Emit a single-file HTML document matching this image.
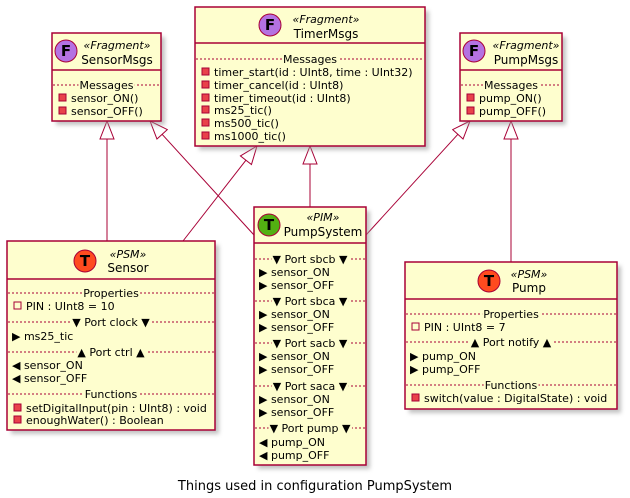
<!DOCTYPE html>
<html><head><meta charset="utf-8"><style>
html,body{margin:0;padding:0;background:#fff;width:630px;height:498px;overflow:hidden}
svg text{font-family:"DejaVu Sans","Liberation Sans",sans-serif;font-size:11px;fill:#000}
</style></head><body>
<svg id="s" width="630" height="498" xmlns="http://www.w3.org/2000/svg">
<defs><filter id="sh" x="-10%" y="-10%" width="130%" height="130%"><feGaussianBlur stdDeviation="2"/></filter></defs>
</svg>
<script>
const S=document.getElementById('s');const NS='http://www.w3.org/2000/svg';
function el(t,a,txt){const e=document.createElementNS(NS,t);for(const k in a)e.setAttribute(k,a[k]);if(txt!=null)e.textContent=txt;S.appendChild(e);return e;}
const R='#A80036';
function edge(x1,y1,x2,y2){
 const dx=x1-x2,dy=y1-y2,L=Math.hypot(dx,dy),ux=dx/L,uy=dy/L,len=18,w=7;
 const bx=x2+ux*len,by=y2+uy*len;
 el('line',{x1,y1,x2:bx,y2:by,stroke:R,'stroke-width':1});
 el('polygon',{points:`${x2},${y2} ${bx-uy*w},${by+ux*w} ${bx+uy*w},${by-ux*w}`,fill:'#fff',stroke:R,'stroke-width':1});
}
function box(b){
 const {x,y,w,h,hh}=b;
 el('rect',{x:x+4,y:y+4,width:w,height:h,fill:'#999',filter:'url(#sh)',opacity:.6});
 el('rect',{x,y,width:w,height:h,fill:'#FEFECE',stroke:R,'stroke-width':1.5});
 el('line',{x1:x,y1:y+hh,x2:x+w,y2:y+hh,stroke:R,'stroke-width':1.5});
 el('circle',{cx:b.cx,cy:b.cy,r:11,fill:b.col,stroke:R,'stroke-width':1});
 el('text',{x:b.cx,y:b.cy+5,'text-anchor':'middle','font-weight':'bold',style:'font-size:15px'},b.ic);
 el('text',{x:b.tx,y:b.sy,'text-anchor':'middle','font-style':'italic'},'«'+b.st+'»');
 el('text',{x:b.tx,y:b.ny,'text-anchor':'middle',style:'font-size:12px'},b.name);
 for(const r of b.rows){
  const [k,yy,t]=r;
  if(k=='s'){
   el('line',{x1:x+1,y1:yy,x2:x+w-1,y2:yy,stroke:R,'stroke-width':1,'stroke-dasharray':'2,2'});
   const tt=el('text',{x:x+w/2,y:yy+4,'text-anchor':'middle'},t);
   const bb=tt.getBBox();
   const bg=el('rect',{x:bb.x-1,y:bb.y,width:bb.width+2,height:bb.height,fill:'#FEFECE'});
   S.insertBefore(bg,tt);
  }else if(k=='m'||k=='p'){
   el('rect',{x:x+7,y:yy-4,width:7,height:7,fill:k=='m'?'#E8424A':'none',stroke:R,'stroke-width':1});
   el('text',{x:x+19,y:yy+4},t);
  }else{
   el('text',{x:x+5,y:yy+4},t);
  }
 }
}
edge(107,241,107,121);
edge(254,235,150,121);
edge(183,241,257,146);
edge(310,207,310,146);
edge(366,235,470,121);
edge(511,262,511,121);
box({x:52,y:33,w:109,h:88,hh:37,cx:66,cy:51,col:'#B472E2',ic:'F',tx:117,st:'Fragment',sy:49,ny:64,name:'SensorMsgs',
 rows:[['s',85,'Messages'],['m',98,'sensor_ON()'],['m',111,'sensor_OFF()']]});
box({x:195,y:7,w:230,h:139,hh:36,cx:270,cy:25,col:'#B472E2',ic:'F',tx:326,st:'Fragment',sy:23,ny:38,name:'TimerMsgs',
 rows:[['s',59,'Messages'],['m',72,'timer_start(id : UInt8, time : UInt32)'],['m',85,'timer_cancel(id : UInt8)'],['m',98,'timer_timeout(id : UInt8)'],['m',110,'ms25_tic()'],['m',123,'ms500_tic()'],['m',136,'ms1000_tic()']]});
box({x:460,y:33,w:102,h:88,hh:37,cx:474,cy:51,col:'#B472E2',ic:'F',tx:526,st:'Fragment',sy:49,ny:64,name:'PumpMsgs',
 rows:[['s',85,'Messages'],['m',98,'pump_ON()'],['m',111,'pump_OFF()']]});
box({x:7,y:241,w:208,h:189,hh:38,cx:85,cy:261,col:'#FF4B1F',ic:'T',tx:128,st:'PSM',sy:258,ny:272,name:'Sensor',
 rows:[['s',293,'Properties'],['p',306,'PIN : UInt8 = 10'],['s',322,'▼ Port clock ▼'],['t',336,'▶ ms25_tic'],['s',352,'▲ Port ctrl ▲'],['t',365,'◀ sensor_ON'],['t',378,'◀ sensor_OFF'],['s',394,'Functions'],['m',408,'setDigitalInput(pin : UInt8) : void'],['m',420,'enoughWater() : Boolean']]});
box({x:254,y:207,w:112,h:258,hh:36,cx:269,cy:225,col:'#52B012',ic:'T',tx:323,st:'PIM',sy:221,ny:236,name:'PumpSystem',
 rows:[['s',259,'▼ Port sbcb ▼'],['t',272,'▶ sensor_ON'],['t',285,'▶ sensor_OFF'],['s',301,'▼ Port sbca ▼'],['t',314,'▶ sensor_ON'],['t',327,'▶ sensor_OFF'],['s',343,'▼ Port sacb ▼'],['t',356,'▶ sensor_ON'],['t',369,'▶ sensor_OFF'],['s',386,'▼ Port saca ▼'],['t',399,'▶ sensor_ON'],['t',412,'▶ sensor_OFF'],['s',428,'▼ Port pump ▼'],['t',442,'◀ pump_ON'],['t',455,'◀ pump_OFF']]});
box({x:405,y:262,w:212,h:147,hh:37,cx:489,cy:281,col:'#FF4B1F',ic:'T',tx:529,st:'PSM',sy:278,ny:292,name:'Pump',
 rows:[['s',314,'Properties'],['p',327,'PIN : UInt8 = 7'],['s',342,'▲ Port notify ▲'],['t',356,'▶ pump_ON'],['t',369,'▶ pump_OFF'],['s',385,'Functions'],['m',398,'switch(value : DigitalState) : void']]});
el('text',{x:315,y:490,'text-anchor':'middle',style:'font-size:13px'},'Things used in configuration PumpSystem');
</script>
</body></html>
